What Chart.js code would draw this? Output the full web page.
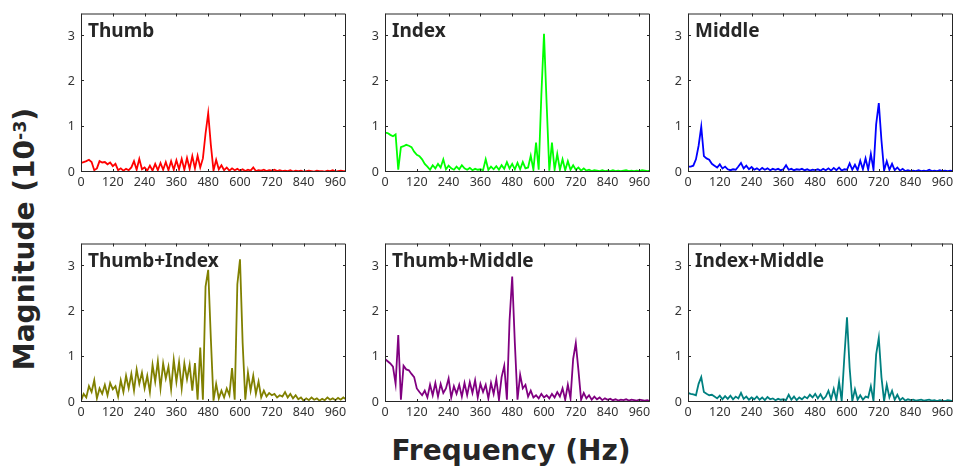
<!DOCTYPE html>
<html lang="en">
  <head>
    <meta charset="UTF-8" />
    <title>Finger vibration spectra</title>
    <script src="https://cdn.jsdelivr.net/npm/chart.js"></script>
    <style>
      body {
        margin: 0;
        background: #fff;
      }
      #fig {
        position: relative;
        width: 960px;
        height: 473px;
        overflow: hidden;
      }
      #fig canvas {
        position: absolute;
      }
      .axis-label {
        position: absolute;
        font-family: 'DejaVu Sans', sans-serif;
        font-weight: bold;
        font-size: 28px;
        line-height: 1;
        color: #262626;
        white-space: nowrap;
        transform: translate(-50%, -50%);
      }
      #ylabel {
        left: 25px;
        top: 239px;
        transform: translate(-50%, -50%) rotate(-90deg);
      }
      #xlabel {
        left: 511px;
        top: 451px;
      }
      .axis-label sup {
        font-size: 0.62em;
        line-height: 0;
        vertical-align: 8px;
      }
    </style>
  </head>
  <body>
    <div id="fig">
      <div class="axis-label" id="ylabel">Magnitude (10<sup>-3</sup>)</div>
      <div class="axis-label" id="xlabel">Frequency (Hz)</div>
    </div>

    <script>
      // frequency bins (Hz)
      const freq = [
        0, 10, 20, 30, 40, 50, 60, 70, 80, 90,
        100, 110, 120, 130, 140, 150, 160, 170, 180, 190,
        200, 210, 220, 230, 240, 250, 260, 270, 280, 290,
        300, 310, 320, 330, 340, 350, 360, 370, 380, 390,
        400, 410, 420, 430, 440, 450, 460, 470, 480, 490,
        500, 510, 520, 530, 540, 550, 560, 570, 580, 590,
        600, 610, 620, 630, 640, 650, 660, 670, 680, 690,
        700, 710, 720, 730, 740, 750, 760, 770, 780, 790,
        800, 810, 820, 830, 840, 850, 860, 870, 880, 890,
        900, 910, 920, 930, 940, 950, 960, 970, 980, 990,
        1000,
      ];

      const xTicks = [0, 120, 240, 360, 480, 600, 720, 840, 960];
      const yTicks = [0, 1, 2, 3];

      // magnitudes (x 10^-3), one value per frequency bin
      const thumb = [
        0.20, 0.22, 0.24, 0.27, 0.22, 0.04, 0.08, 0.24, 0.21, 0.22,
        0.17, 0.21, 0.13, 0.18, 0.04, 0.08, 0.03, 0.07, 0.04, 0.10,
        0.24, 0.05, 0.29, 0.06, 0.10, 0.03, 0.14, 0.03, 0.18, 0.04,
        0.20, 0.05, 0.22, 0.04, 0.24, 0.05, 0.26, 0.06, 0.29, 0.05,
        0.31, 0.07, 0.35, 0.08, 0.36, 0.10, 0.30, 0.85, 1.30, 0.60,
        0.03, 0.27, 0.06, 0.15, 0.04, 0.10, 0.03, 0.08, 0.04, 0.07,
        0.03, 0.06, 0.02, 0.05, 0.03, 0.10, 0.02, 0.04, 0.03, 0.05,
        0.02, 0.04, 0.03, 0.05, 0.02, 0.04, 0.02, 0.03, 0.02, 0.04,
        0.01, 0.03, 0.02, 0.03, 0.01, 0.02, 0.03, 0.02, 0.01, 0.03,
        0.02, 0.02, 0.01, 0.03, 0.02, 0.04, 0.01, 0.02, 0.03, 0.02,
        0.02,
      ];
      const index = [
        0.87, 0.86, 0.82, 0.79, 0.83, 0.05, 0.55, 0.57, 0.60, 0.58,
        0.55, 0.45, 0.38, 0.35, 0.28, 0.18, 0.12, 0.05, 0.15, 0.08,
        0.18, 0.10, 0.28, 0.06, 0.14, 0.08, 0.05, 0.12, 0.06, 0.15,
        0.08, 0.05, 0.09, 0.04, 0.07, 0.05, 0.06, 0.04, 0.28, 0.05,
        0.12, 0.06, 0.13, 0.05, 0.15, 0.07, 0.22, 0.08, 0.18, 0.06,
        0.20, 0.06, 0.22, 0.08, 0.10, 0.36, 0.05, 0.65, 0.05, 1.70,
        3.05, 1.50, 0.03, 0.65, 0.05, 0.40, 0.05, 0.28, 0.04, 0.24,
        0.05, 0.15, 0.05, 0.10, 0.03, 0.08, 0.03, 0.05, 0.02, 0.04,
        0.03, 0.02, 0.04, 0.02, 0.03, 0.02, 0.04, 0.02, 0.03, 0.02,
        0.03, 0.04, 0.02, 0.03, 0.02, 0.03, 0.02, 0.04, 0.03, 0.02,
        0.03,
      ];
      const middle = [
        0.12, 0.12, 0.14, 0.28, 0.58, 1.00, 0.35, 0.30, 0.27, 0.18,
        0.14, 0.10, 0.17, 0.08, 0.12, 0.06, 0.04, 0.06, 0.05, 0.12,
        0.20, 0.08, 0.14, 0.06, 0.11, 0.05, 0.08, 0.04, 0.09, 0.05,
        0.08, 0.04, 0.07, 0.05, 0.07, 0.04, 0.06, 0.15, 0.05, 0.07,
        0.04, 0.06, 0.05, 0.07, 0.04, 0.06, 0.03, 0.05, 0.04, 0.06,
        0.03, 0.07, 0.04, 0.08, 0.03, 0.09, 0.04, 0.10, 0.03, 0.06,
        0.05, 0.19, 0.05, 0.16, 0.04, 0.25, 0.06, 0.30, 0.05, 0.40,
        0.05, 1.05, 1.52, 0.70, 0.03, 0.24, 0.05, 0.18, 0.04, 0.10,
        0.03, 0.07, 0.02, 0.04, 0.02, 0.03, 0.02, 0.04, 0.02, 0.03,
        0.02, 0.05, 0.02, 0.03, 0.02, 0.04, 0.02, 0.03, 0.02, 0.03,
        0.02,
      ];
      const thumbIndex = [
        0.03, 0.18, 0.10, 0.35, 0.22, 0.48, 0.08, 0.30, 0.18, 0.38,
        0.15, 0.42, 0.28, 0.35, 0.12, 0.48, 0.22, 0.58, 0.30, 0.62,
        0.25, 0.72, 0.40, 0.65, 0.30, 0.58, 0.22, 0.82, 0.45, 0.90,
        0.30, 0.85, 0.52, 0.78, 0.28, 0.93, 0.45, 0.88, 0.30, 0.85,
        0.50, 0.82, 0.25, 0.86, 0.05, 1.20, 0.05, 2.55, 2.92, 1.40,
        0.03, 0.40, 0.08, 0.25, 0.10, 0.30, 0.15, 0.75, 0.05, 2.60,
        3.15, 1.30, 0.05, 0.65, 0.25, 0.58, 0.18, 0.45, 0.10, 0.25,
        0.12, 0.20, 0.15, 0.18, 0.10, 0.15, 0.12, 0.22, 0.10, 0.18,
        0.08, 0.15, 0.06, 0.10, 0.03, 0.08, 0.04, 0.10, 0.05, 0.08,
        0.03, 0.07, 0.04, 0.10, 0.05, 0.08, 0.04, 0.09, 0.05, 0.10,
        0.06,
      ];
      const thumbMiddle = [
        0.95, 0.90, 0.85, 0.78, 0.40, 1.48, 0.05, 0.80, 0.72, 0.70,
        0.62, 0.55, 0.30, 0.22, 0.15, 0.25, 0.10, 0.38, 0.15, 0.42,
        0.12, 0.40, 0.20, 0.30, 0.52, 0.10, 0.35, 0.18, 0.38, 0.12,
        0.42, 0.15, 0.44, 0.20, 0.48, 0.10, 0.40, 0.22, 0.38, 0.08,
        0.42, 0.18, 0.50, 0.05, 0.55, 0.80, 0.05, 1.80, 2.77, 1.30,
        0.05, 0.60, 0.30, 0.38, 0.12, 0.25, 0.10, 0.15, 0.08, 0.18,
        0.10, 0.15, 0.08, 0.18, 0.10, 0.22, 0.12, 0.30, 0.05, 0.38,
        0.08, 0.95, 1.30, 0.70, 0.05, 0.20, 0.08, 0.15, 0.05, 0.12,
        0.06, 0.10, 0.04, 0.08, 0.05, 0.07, 0.04, 0.06, 0.03, 0.05,
        0.04, 0.06, 0.03, 0.05, 0.04, 0.03, 0.05, 0.04, 0.03, 0.04,
        0.02,
      ];
      const indexMiddle = [
        0.20, 0.18, 0.17, 0.15, 0.40, 0.55, 0.22, 0.18, 0.15, 0.16,
        0.12, 0.08, 0.14, 0.06, 0.13, 0.07, 0.14, 0.06, 0.12, 0.08,
        0.20, 0.07, 0.12, 0.05, 0.10, 0.06, 0.12, 0.05, 0.10, 0.04,
        0.11, 0.06, 0.08, 0.04, 0.07, 0.05, 0.06, 0.04, 0.16, 0.05,
        0.12, 0.04, 0.10, 0.06, 0.12, 0.08, 0.16, 0.10, 0.18, 0.08,
        0.17, 0.06, 0.12, 0.25, 0.06, 0.29, 0.05, 0.45, 0.02, 1.00,
        1.87, 0.75, 0.02, 0.28, 0.05, 0.15, 0.05, 0.12, 0.10, 0.35,
        0.02, 1.05, 1.42, 0.55, 0.02, 0.38, 0.10, 0.25, 0.05, 0.16,
        0.04, 0.09, 0.03, 0.06, 0.04, 0.05, 0.03, 0.04, 0.05, 0.03,
        0.04, 0.05, 0.03, 0.04, 0.02, 0.04, 0.03, 0.02, 0.04, 0.03,
        0.02,
      ];

      // where each subplot sits on the page (canvas top-left)
      const panels = [
        { name: 'Thumb', values: thumb, color: '#ff0000', left: 41, top: 0 },
        { name: 'Index', values: index, color: '#00ff00', left: 345, top: 0 },
        { name: 'Middle', values: middle, color: '#0000ff', left: 648, top: 0 },
        { name: 'Thumb+Index', values: thumbIndex, color: '#808000', left: 41, top: 230 },
        { name: 'Thumb+Middle', values: thumbMiddle, color: '#800080', left: 345, top: 230 },
        { name: 'Index+Middle', values: indexMiddle, color: '#008080', left: 648, top: 230 },
      ];

      Chart.defaults.font.family = '"Noto Sans", sans-serif';

      // matlab style box with inward ticks on all four sides + panel name
      const boxFrame = {
        id: 'boxFrame',
        afterDatasetsDraw(chart, args, opts) {
          const { ctx, chartArea: a } = chart;
          const xs = chart.scales.x;
          const ys = chart.scales.y;
          ctx.save();
          ctx.strokeStyle = '#262626';
          ctx.lineWidth = 1;
          ctx.beginPath();
          xTicks.forEach((v) => {
            const px = Math.round(xs.getPixelForValue(v)) + 0.5;
            ctx.moveTo(px, a.bottom);
            ctx.lineTo(px, a.bottom - 3);
            ctx.moveTo(px, a.top);
            ctx.lineTo(px, a.top + 3);
          });
          yTicks.forEach((v) => {
            const py = Math.round(ys.getPixelForValue(v)) - 0.5;
            ctx.moveTo(a.left, py);
            ctx.lineTo(a.left + 3, py);
            ctx.moveTo(a.right, py);
            ctx.lineTo(a.right - 3, py);
          });
          ctx.rect(a.left + 0.5, a.top + 0.5, a.right - a.left - 1, a.bottom - a.top - 1);
          ctx.stroke();

          ctx.font = 'bold 19px "Noto Sans"';
          ctx.fillStyle = '#262626';
          ctx.textBaseline = 'alphabetic';
          ctx.fillText(opts.text, a.left + 7, a.top + 23);
          ctx.restore();
        },
      };

      const fig = document.getElementById('fig');

      panels.forEach((p) => {
        const canvas = document.createElement('canvas');
        canvas.width = 313;
        canvas.height = 196;
        canvas.style.left = p.left + 'px';
        canvas.style.top = p.top + 'px';
        fig.appendChild(canvas);

        new Chart(canvas, {
          type: 'line',
          data: {
            datasets: [
              {
                data: freq.map((f, i) => ({ x: f, y: p.values[i] })),
                borderColor: p.color,
                borderWidth: 1.8,
                pointRadius: 0,
                tension: 0,
                fill: false,
              },
            ],
          },
          options: {
            responsive: false,
            animation: false,
            events: [],
            layout: { padding: { top: 5, right: 8, left: 0, bottom: 0 } },
            plugins: {
              legend: { display: false },
              tooltip: { enabled: false },
              boxFrame: { text: p.name },
            },
            scales: {
              x: {
                type: 'linear',
                min: 0,
                max: 1000,
                afterBuildTicks: (s) => {
                  s.ticks = xTicks.map((v) => ({ value: v }));
                },
                afterFit: (s) => {
                  s.height = 24;
                },
                grid: { display: false, drawTicks: false },
                border: { display: false },
                ticks: {
                  padding: 3,
                  maxRotation: 0,
                  autoSkip: false,
                  color: '#333333',
                  font: { size: 12.5 },
                },
              },
              y: {
                type: 'linear',
                min: 0,
                max: 3.5,
                afterBuildTicks: (s) => {
                  s.ticks = yTicks.map((v) => ({ value: v }));
                },
                afterFit: (s) => {
                  s.width = 40;
                },
                grid: { display: false, drawTicks: false },
                border: { display: false },
                ticks: {
                  padding: 6,
                  color: '#333333',
                  font: { size: 12.5 },
                },
              },
            },
          },
          plugins: [boxFrame],
        });
      });
    </script>
  </body>
</html>
